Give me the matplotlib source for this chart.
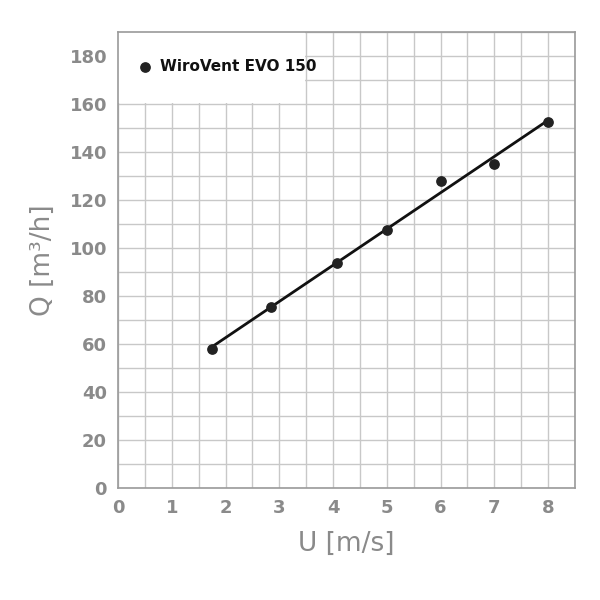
import matplotlib
matplotlib.use("Agg")
import matplotlib.pyplot as plt
import numpy as np
from matplotlib.patches import Rectangle

u = [1.75, 2.85, 4.08, 5.0, 6.0, 7.0, 8.0]
q = [58, 75.5, 93.5, 107.5, 128, 135, 152.5]
xticks = [0, 1, 2, 3, 4, 5, 6, 7, 8]
yticks = [0, 20, 40, 60, 80, 100, 120, 140, 160, 180]

fig = plt.figure(figsize=(6, 6), dpi=100)
ax = fig.add_axes([0.197, 0.187, 0.761, 0.76])
ax.set_xlim(0, 8.5)
ax.set_ylim(0, 190)
ax.set_xticks(xticks)
ax.set_yticks(yticks)
ax.set_xticks(np.arange(0, 8.51, 0.5), minor=True)
ax.set_yticks(np.arange(0, 190.1, 10), minor=True)
ax.grid(which='both', color='#c8c8c8', lw=1)
ax.set_axisbelow(True)
ax.tick_params(which='both', length=0, labelsize=13, labelcolor='#8a8a8a', pad=8)
for lbl in ax.get_xticklabels() + ax.get_yticklabels():
    lbl.set_fontweight('semibold')
for s in ax.spines.values():
    s.set_color('#9a9a9a')
    s.set_linewidth(1.2)

ax.add_patch(Rectangle((0, 160.5), 3.47, 29.5, facecolor='white', edgecolor='none', zorder=1.5))

c = np.polyfit(u, q, 1)
xs = np.array([u[0], u[-1]])
ax.plot(xs, np.polyval(c, xs), color='#111111', lw=2, zorder=3)
ax.scatter(u, q, s=45, color='#222222', zorder=4)
ax.scatter([0.5], [175.5], s=45, color='#222222', zorder=4)
ax.text(0.77, 175.5, 'WiroVent EVO 150', va='center', fontsize=11, fontweight='bold', color='#111111', zorder=4)

ax.set_xlabel('U [m/s]', fontsize=19, color='#8a8a8a', labelpad=10)
ax.set_ylabel('Q [m³/h]', fontsize=19, color='#8a8a8a', labelpad=10)
fig.savefig('out.png', dpi=100, facecolor='white')
